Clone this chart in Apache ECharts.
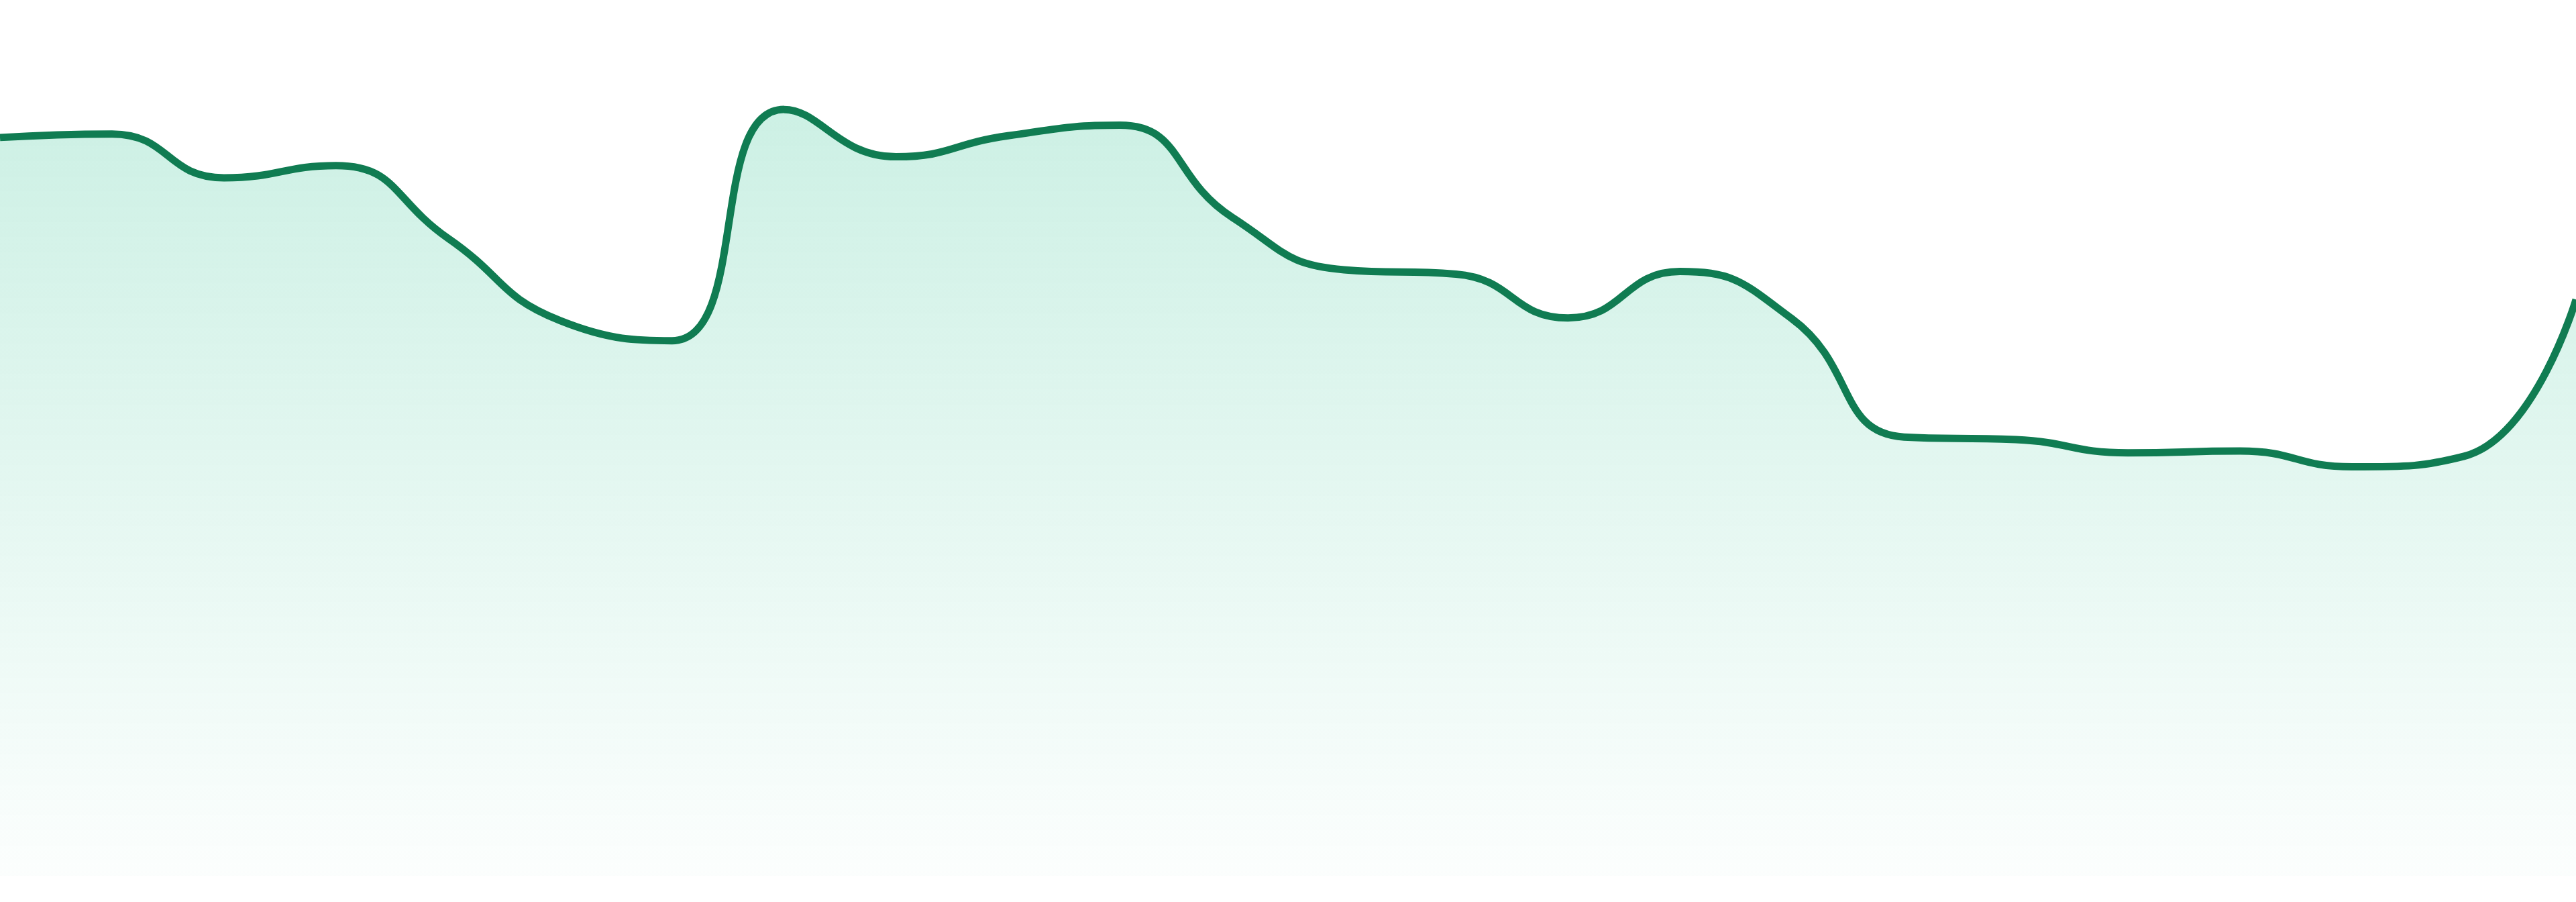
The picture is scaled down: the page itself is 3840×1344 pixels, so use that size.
<!DOCTYPE html>
<html>
<head>
<meta charset="utf-8">
<title>Area</title>
<script src="https://cdn.jsdelivr.net/npm/echarts@6/dist/echarts.min.js"></script>
<style>
  html, body { margin: 0; padding: 0; background: #fff; }
  #chart { width: 3840px; height: 1344px; }
</style>
</head>
<body>
<div id="chart"></div>
<script>
// 24 hourly points, axes hidden
var hours = ['00:00', '01:00', '02:00', '03:00', '04:00', '05:00', '06:00', '07:00',
  '08:00', '09:00', '10:00', '11:00', '12:00', '13:00', '14:00', '15:00',
  '16:00', '17:00', '18:00', '19:00', '20:00', '21:00', '22:00', '23:00']
var values = [84.3, 84.7, 79.7, 81.1, 72.8, 63.4, 61.1, 87.5,
  82.1, 84.5, 85.7, 75.2, 69.2, 68.7, 63.7, 69.0,
  63.6, 50.1, 49.8, 48.3, 48.5, 46.7, 47.9, 65.8]

var chart = echarts.init(document.getElementById('chart'))
chart.setOption({
  animation: false,
  grid: { left: 0, right: 0, top: 0, bottom: 39 },
  xAxis: {
    type: 'category',
    data: hours,
    boundaryGap: false,
    show: false
  },
  yAxis: {
    type: 'value',
    min: 0,
    max: 100,
    show: false
  },
  series: [{
    type: 'line',
    data: values,
    smooth: true,
    showSymbol: false,
    lineStyle: { color: '#107c52', width: 11 },
    areaStyle: {
      // fades from light green under the line to almost white at the bottom
      color: new echarts.graphic.LinearGradient(0, 0, 0, 1, [
        { offset: 0, color: 'rgba(16,185,129,0.3)' },
        { offset: 1, color: 'rgba(16,185,129,0.02)' }
      ])
    }
  }]
})
</script>
</body>
</html>
